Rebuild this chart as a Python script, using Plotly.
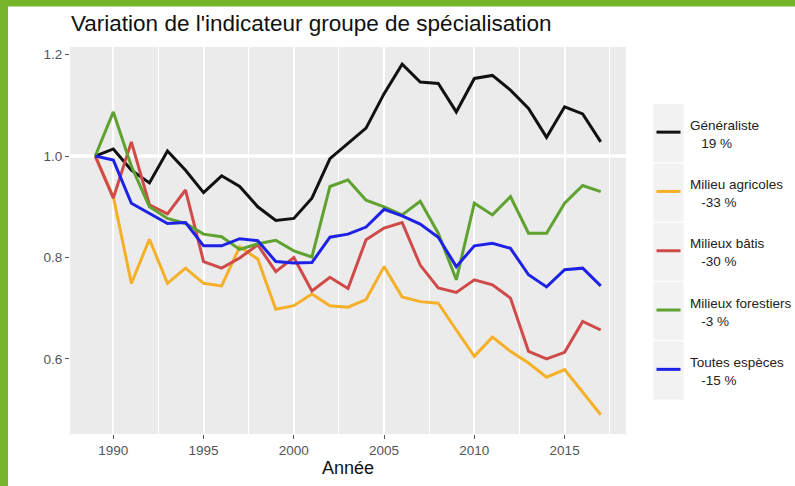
import plotly.graph_objects as go

years = list(range(1989, 2018))

series_names = ["Généraliste", "Milieu agricoles", "Milieux bâtis", "Milieux forestiers", "Toutes espèces"]
series_pct = ["19 %", "-33 %", "-30 %", "-3 %", "-15 %"]
series_colors = ["#111111", "#f5b028", "#cf4a48", "#5fa22f", "#1e22e6"]

generaliste = [1.000, 1.014, 0.972, 0.947, 1.010, 0.972, 0.928, 0.961, 0.940, 0.900,
               0.873, 0.877, 0.917, 0.995, 1.025, 1.055, 1.123, 1.181, 1.146, 1.143,
               1.087, 1.153, 1.159, 1.130, 1.094, 1.037, 1.097, 1.083, 1.028]
agricoles = [1.000, 0.920, 0.749, 0.836, 0.749, 0.779, 0.749, 0.744, 0.821, 0.797,
             0.698, 0.705, 0.728, 0.705, 0.702, 0.717, 0.782, 0.722, 0.713, 0.710,
             0.657, 0.605, 0.643, 0.615, 0.592, 0.564, 0.579, 0.534, 0.490]
batis = [1.000, 0.917, 1.028, 0.904, 0.886, 0.933, 0.792, 0.779, 0.799, 0.825,
         0.772, 0.800, 0.734, 0.761, 0.739, 0.835, 0.858, 0.869, 0.785, 0.740,
         0.731, 0.756, 0.746, 0.720, 0.615, 0.600, 0.613, 0.674, 0.657]
forestiers = [1.000, 1.087, 0.980, 0.900, 0.877, 0.867, 0.846, 0.841, 0.816, 0.827,
              0.834, 0.813, 0.801, 0.940, 0.953, 0.913, 0.900, 0.884, 0.911, 0.848,
              0.756, 0.907, 0.884, 0.920, 0.848, 0.848, 0.907, 0.942, 0.930]
toutes = [1.000, 0.992, 0.907, 0.887, 0.867, 0.869, 0.823, 0.823, 0.837, 0.833,
          0.792, 0.789, 0.790, 0.840, 0.846, 0.860, 0.895, 0.882, 0.866, 0.840,
          0.782, 0.823, 0.828, 0.818, 0.766, 0.742, 0.776, 0.779, 0.744]

all_series = [generaliste, agricoles, batis, forestiers, toutes]

x_tickvals = [1990, 1995, 2000, 2005, 2010, 2015]
y_tickvals = [0.6, 0.8, 1.0, 1.2]

W, H = 795, 486
ML, MR, MT, MB = 70, 169, 47, 52
PW, PH = W - ML - MR, H - MT - MB


def px(X):
    return (X - ML) / PW


def py(Y):
    return (H - MB - Y) / PH


fig = go.Figure()
for name, vals, col in zip(series_names, all_series, series_colors):
    fig.add_trace(go.Scatter(x=years, y=vals, mode="lines", name=name,
                             line=dict(color=col, width=3), showlegend=False))

shapes = []
# reference line at 1.0
shapes.append(dict(type="line", xref="paper", yref="y", x0=0, x1=1, y0=1.0, y1=1.0,
                   line=dict(color="white", width=3.5), layer="between"))
# green frame border (top and left)
shapes.append(dict(type="rect", xref="paper", yref="paper", x0=px(0), x1=px(W),
                   y0=py(6.5), y1=py(0), fillcolor="#77b52b", line=dict(width=0), layer="above"))
shapes.append(dict(type="rect", xref="paper", yref="paper", x0=px(0), x1=px(8),
                   y0=py(H), y1=py(0), fillcolor="#77b52b", line=dict(width=0), layer="above"))

annotations = []
key_top = 103.5
key_h = 59.3
for i, (name, pct, col) in enumerate(zip(series_names, series_pct, series_colors)):
    y0 = key_top + i * key_h
    yc = y0 + key_h / 2
    shapes.append(dict(type="rect", xref="paper", yref="paper", x0=px(653.5), x1=px(683.5),
                       y0=py(y0 + key_h - 0.6), y1=py(y0 + 0.6), fillcolor="#f2f2f2",
                       line=dict(width=0), layer="above"))
    shapes.append(dict(type="line", xref="paper", yref="paper", x0=px(656.5), x1=px(680.5),
                       y0=py(yc - 1), y1=py(yc - 1), line=dict(color=col, width=3), layer="above"))
    annotations.append(dict(xref="paper", yref="paper", x=px(687.5), y=py(yc + 1),
                            xanchor="left", yanchor="middle", align="left", showarrow=False,
                            text=name + "<br>" + "\u00a0\u00a0\u00a0" + pct,
                            font=dict(family="Liberation Sans, Arial, sans-serif", size=13.5,
                                      color="#222222")))

fig.update_layout(
    width=W, height=H,
    margin=dict(l=ML, r=MR, t=MT, b=MB),
    paper_bgcolor="white",
    plot_bgcolor="#ebebeb",
    font=dict(family="Liberation Sans, Arial, sans-serif", color="#4d4d4d"),
    title=dict(text="Variation de l'indicateur groupe de spécialisation",
               x=px(71), xanchor="left", xref="paper",
               y=1 - 23 / H, yanchor="middle", yref="container",
               font=dict(size=22.5, color="#111111")),
    xaxis=dict(range=[1987.6, 2018.4], tickvals=x_tickvals, showgrid=True,
               gridcolor="white", gridwidth=2, zeroline=False, showline=False,
               ticks="outside", ticklen=4, tickcolor="#555555", tickwidth=1,
               tickfont=dict(size=13.5, color="#555555"),
               minor=dict(dtick=2.5, tick0=1987.5, showgrid=True, gridcolor="white",
                          gridwidth=1, ticks=""),
               title=dict(text="Année", font=dict(size=18, color="#111111"), standoff=4)),
    yaxis=dict(range=[0.452, 1.215], tickvals=y_tickvals, tickformat=".1f",
               showgrid=False, zeroline=False, showline=False,
               ticks="outside", ticklen=4, tickcolor="#555555", tickwidth=1,
               tickfont=dict(size=13.5, color="#555555")),
    shapes=shapes,
    annotations=annotations,
    showlegend=False,
)

fig.write_html("out.html", config={"displayModeBar": False},
               post_script="document.body.style.margin='0';document.body.style.overflow='hidden';")
